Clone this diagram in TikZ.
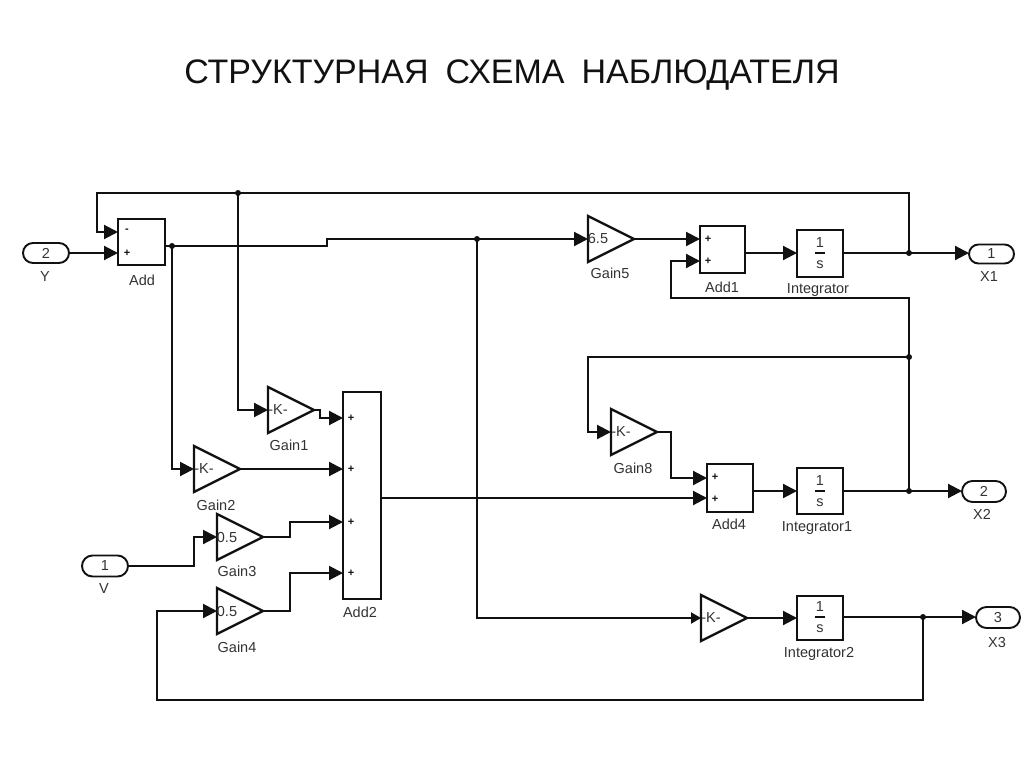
\documentclass[tikz,border=0pt]{standalone}
\usepackage{fontspec}
\setmainfont{Liberation Sans}
\usetikzlibrary{arrows.meta,shapes.geometric,shapes.misc}
\definecolor{ink}{HTML}{111111}
\definecolor{lab}{HTML}{333333}
\tikzset{
  x=1pt,y=-1pt,
  conn/.style={line width=2.1pt,draw=ink,line join=miter},
  arr/.style={conn,-{Triangle[length=14pt,width=14pt]}},
  arrs/.style={conn,-{Triangle[length=10pt,width=11pt]}},
  block/.style={draw=ink,line width=2.3pt,fill=white,inner sep=0pt,outer sep=0pt,minimum width=#1},
  port/.style={draw=ink,line width=1.9pt,rounded rectangle,inner sep=0pt,outer sep=0pt,text=lab,font=\fontsize{14.5}{14.5}\selectfont},
  gainshape/.style={draw=ink,line width=2.3pt,isosceles triangle,isosceles triangle stretches,inner sep=0pt,outer sep=0pt,minimum width=46pt,minimum height=46pt,anchor=lower side},
  lbl/.style={text=lab,inner sep=0pt,font=\fontsize{14.5}{14.5}\selectfont},
  sgn/.style={text=ink,inner sep=0pt,font=\fontsize{11}{11}\bfseries\selectfont},
  jn/.style={circle,fill=ink,inner sep=0pt,minimum size=6pt},
}
\newcommand{\gainblk}[4]{% name, x, y, text
  \node[gainshape] (#1) at (#2,#3) {};
  \node[lbl] (#1-t) at (#2+10,#3) {#4};
}
\newcommand{\intblk}[5]{% name, left, top, bottom, centre y
  \node[block=46pt,minimum height=#4pt-#3pt,anchor=north west] (#1) at (#2,#3) {};
  \node[lbl] (#1-n) at (#2+23,#5-10) {1};
  \node[lbl] (#1-d) at (#2+23,#5+12) {s};
  \draw[line width=1.8pt,draw=ink] (#2+18,#5) -- (#2+28,#5);
}
\begin{document}
\begin{tikzpicture}
\useasboundingbox[fill=white] (0,0) rectangle (1024,768);
\node[text=ink,inner sep=0pt,font=\fontsize{34}{34}\selectfont] (title) at (512,75) {СТРУКТУРНАЯ\hspace{0.5em}СХЕМА\hspace{0.5em}НАБЛЮДАТЕЛЯ};

% ports
\node[port,minimum width=46pt,minimum height=20pt] (Y) at (46,253) {2};
\node[port,minimum width=46pt,minimum height=21pt] (V) at (105,566) {1};
\node[port,minimum width=45pt,minimum height=19pt] (X1) at (991.5,254) {1};
\node[port,minimum width=44pt,minimum height=21pt] (X2) at (984,491.5) {2};
\node[port,minimum width=44pt,minimum height=21pt] (X3) at (998,617.5) {3};

% sum blocks
\node[block=47pt,minimum height=46pt,anchor=north west] (Add) at (118,219) {};
\node[block=45pt,minimum height=47pt,anchor=north west] (Add1) at (700,226) {};
\node[block=46pt,minimum height=48pt,anchor=north west] (Add4) at (707,464) {};
\node[block=38pt,minimum height=207pt,anchor=north west] (Add2) at (343,392) {};

\node[sgn] (Add-s1) at (127,231) {-};
\node[sgn] (Add-s2) at (127,253) {+};
\node[sgn] (Add1-s1) at (708,239) {+};
\node[sgn] (Add1-s2) at (708,261) {+};
\node[sgn] (Add4-s1) at (715,477) {+};
\node[sgn] (Add4-s2) at (715,499) {+};
\node[sgn] (Add2-s1) at (351,418) {+};
\node[sgn] (Add2-s2) at (351,469) {+};
\node[sgn] (Add2-s3) at (351,522) {+};
\node[sgn] (Add2-s4) at (351,573) {+};

% gains
\gainblk{Gain1}{268}{410}{-K-}
\gainblk{Gain2}{194}{469}{-K-}
\gainblk{Gain3}{217}{537}{0.5}
\gainblk{Gain4}{217}{611}{0.5}
\gainblk{Gain5}{588}{239}{6.5}
\gainblk{Gain8}{611}{432}{-K-}
\gainblk{Gain7}{701}{618}{-K-}

% integrators
\intblk{Int0}{797}{230}{277}{253}
\intblk{Int1}{797}{468}{514}{491}
\intblk{Int2}{797}{596}{640}{617}

% labels
\node[lbl] (l-Y) at (45,277) {Y};
\node[lbl] (l-V) at (104,589) {V};
\node[lbl] (l-Add) at (142,280) {Add};
\node[lbl] (l-Gain1) at (289,445) {Gain1};
\node[lbl] (l-Gain2) at (216,505) {Gain2};
\node[lbl] (l-Gain3) at (237,571) {Gain3};
\node[lbl] (l-Gain4) at (237,647) {Gain4};
\node[lbl] (l-Add2) at (360,612) {Add2};
\node[lbl] (l-Gain5) at (610,273) {Gain5};
\node[lbl] (l-Add1) at (722,287) {Add1};
\node[lbl] (l-Int0) at (818,290) {Integrator};
\node[lbl] (l-X1) at (989,277) {X1};
\node[lbl] (l-Gain8) at (633,468) {Gain8};
\node[lbl] (l-Add4) at (729,524) {Add4};
\node[lbl] (l-Int1) at (817,528) {Integrator1};
\node[lbl] (l-X2) at (982,514) {X2};
\node[lbl] (l-Int2) at (819,654) {Integrator2};
\node[lbl] (l-X3) at (997,642) {X3};

% junctions
\node[jn] (jTop) at (238,193) {};
\node[jn] (jA) at (172,246) {};
\node[jn] (jB) at (477,239) {};
\node[jn] (jX1) at (909,253) {};
\node[jn] (jM) at (909,357) {};
\node[jn] (jX2) at (909,491) {};
\node[jn] (jX3) at (923,617) {};

% port coordinates
\coordinate (AddI1) at (118,232);
\coordinate (AddI2) at (118,253);
\coordinate (AddO) at (165,246);
\coordinate (Add1I1) at (700,239);
\coordinate (Add1I2) at (700,261);
\coordinate (Add4I1) at (707,478);
\coordinate (Add4I2) at (707,498);
\coordinate (Add2I1) at (343,418);
\coordinate (Add2I2) at (343,469);
\coordinate (Add2I3) at (343,522);
\coordinate (Add2I4) at (343,573);
\coordinate (Add2O) at (381,498);

% connectors
\draw[arr] (Y.east) -- (AddI2);
\draw[arr] (jX1.center) -- (909,193) -- (97,193) -- (97,232) -- (AddI1);
\draw[arr] (jTop.center) |- (Gain1.lower side);
\draw[conn] (AddO) -- (327,246) -- (327,239) -- (jB.center);
\draw[arr] (jB.center) -- (Gain5.lower side);
\draw[arr] (jA.center) |- (Gain2.lower side);
\draw[arr] (Gain1.apex) -- (320,410) -- (320,418) -- (Add2I1);
\draw[arr] (Gain2.apex) -- (Add2I2);
\draw[arr] (Gain3.apex) -- (290,537) -- (290,522) -- (Add2I3);
\draw[arr] (Gain4.apex) -- (290,611) -- (290,573) -- (Add2I4);
\draw[arr] (V.east) -- (194,566) -- (194,537) -- (Gain3.lower side);
\draw[arr] (jX3.center) -- (923,700) -- (157,700) -- (157,611) -- (Gain4.lower side);
\draw[arr] (Add2O) -- (Add4I2);
\draw[arr] (Gain5.apex) -- (Add1I1);
\draw[arr] (jM.center) -- (909,298) -- (671,298) -- (671,261) -- (Add1I2);
\draw[arr] (Add1.east |- jX1) -- (Int0.west |- jX1);
\draw[arr] (Int0.east |- jX1) -- (X1.west |- jX1);
\draw[arr] (jM.center) -- (588,357) -- (588,432) -- (Gain8.lower side);
\draw[conn] (jX2.center) -- (jM.center);
\draw[arr] (Gain8.apex) -- (671,432) -- (671,478) -- (Add4I1);
\draw[arr] (Add4.east |- jX2) -- (Int1.west |- jX2);
\draw[arr] (Int1.east |- jX2) -- (X2.west |- jX2);
\draw[arrs] (jB.center) -- (477,618) -- (Gain7.lower side);
\draw[arr] (Gain7.apex) -- (Int2.west |- Gain7.apex);
\draw[arr] (Int2.east |- jX3) -- (X3.west |- jX3);
\end{tikzpicture}
\end{document}
